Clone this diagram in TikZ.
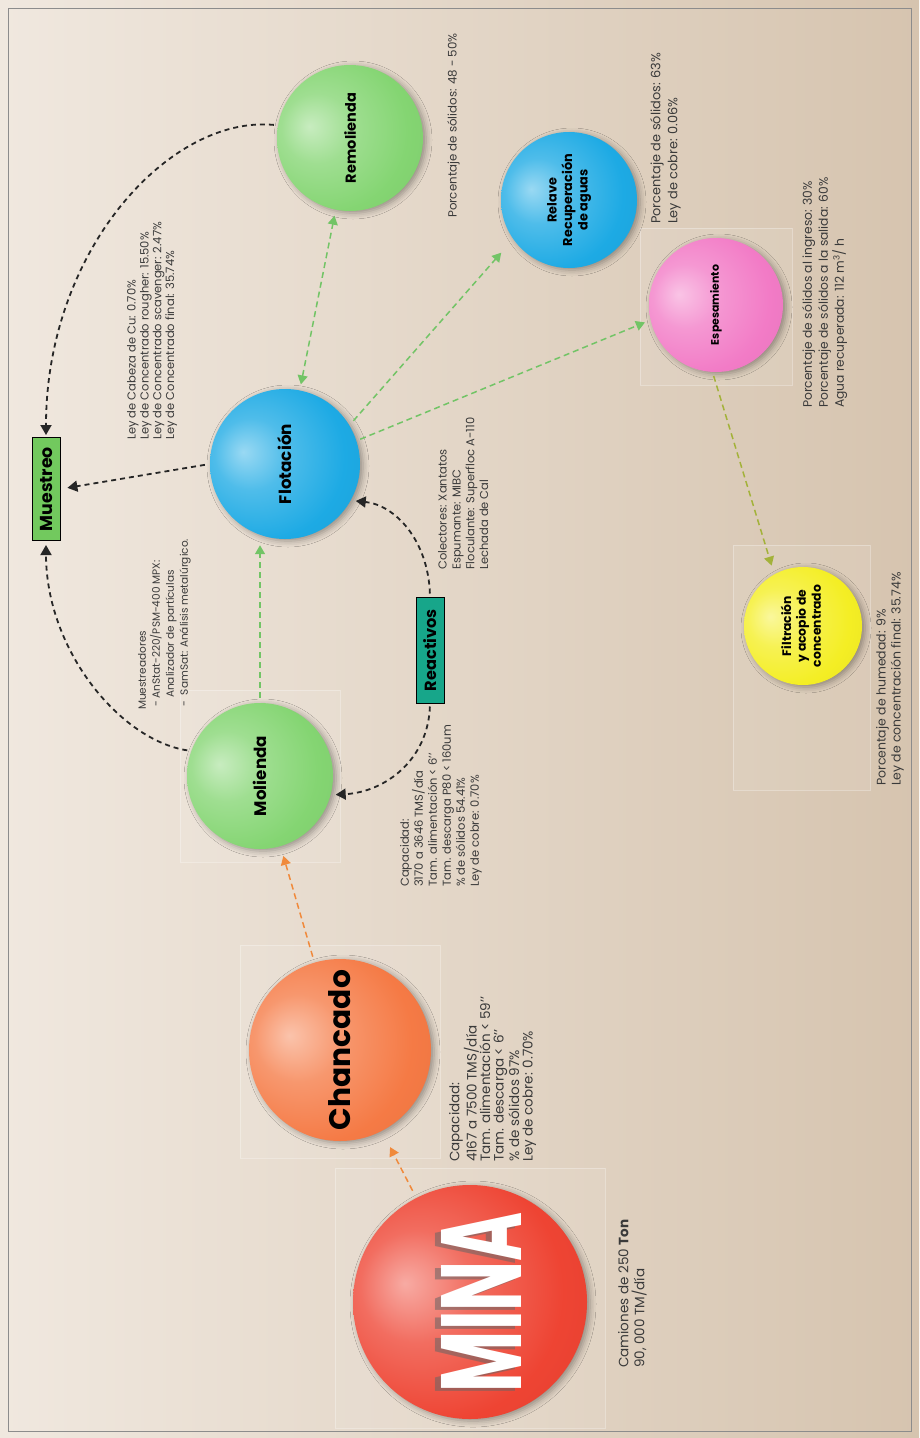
\documentclass[tikz,border=0pt]{standalone}
\usepackage{fontspec}
\setmainfont{Poppins}
\usepackage{graphicx}
\usetikzlibrary{arrows.meta,shadows.blur}

\definecolor{bgA}{HTML}{F0E8DF}
\definecolor{bgB}{HTML}{D6C4AF}
\definecolor{framec}{HTML}{8C8C8C}
\definecolor{minaC}{HTML}{EE4433}
\definecolor{chanC}{HTML}{F57A45}
\definecolor{greenC}{HTML}{84D572}
\definecolor{blueC}{HTML}{1DAAE4}
\definecolor{pinkC}{HTML}{F27BC6}
\definecolor{yellowC}{HTML}{F4EE24}
\definecolor{boxG}{HTML}{72C95E}
\definecolor{boxT}{HTML}{17A68A}
\definecolor{dashG}{HTML}{72C466}
\definecolor{dashO}{HTML}{F08A3C}
\definecolor{dashY}{HTML}{A3B23A}
\definecolor{txt}{HTML}{3A3A3A}

% glossy sphere shading, lit from the left
\makeatletter
\pgfdeclareradialshading[tikz@ball]{orb}{\pgfqpoint{-14bp}{4bp}}{%
  color(0bp)=(tikz@ball!45!white);
  color(12bp)=(tikz@ball!78!white);
  color(28bp)=(tikz@ball);
  color(50bp)=(tikz@ball!92!black);
  color(66bp)=(tikz@ball!82!black)}
\makeatother

\begin{document}
\begin{tikzpicture}[x=1pt,y=-1pt,
  sphere/.style={circle, inner sep=0pt, ball color=#1, shading=orb,
    blur shadow={shadow xshift=3pt, shadow yshift=-2pt, shadow opacity=35, shadow blur radius=6pt}},
  tagbox/.style={draw=black, line width=1pt, inner sep=0pt, fill=#1},
  info/.style={rotate=90, anchor=north west, inner sep=0pt, align=left,
    text=txt, font=\fontsize{11.5}{12.8}\selectfont},
  tile/.style={fill=white, fill opacity=0.08, draw=white, draw opacity=0.3, line width=0.6pt},
  blackflow/.style={draw=black!85, line width=1.8pt, dash pattern=on 5pt off 4pt,
    -{Triangle[width=11pt,length=10pt]}},
  greenflow/.style={draw=dashG, line width=1.5pt, dash pattern=on 6pt off 4pt,
    -{Triangle[width=10pt,length=9pt]}},
  orangeflow/.style={draw=dashO, line width=1.5pt, dash pattern=on 6pt off 4pt,
    -{Triangle[width=10pt,length=9pt]}},
  oliveflow/.style={draw=dashY, line width=1.5pt, dash pattern=on 6pt off 4pt,
    -{Triangle[width=10pt,length=9pt]}}
]
\useasboundingbox (0,0) rectangle (919,1438);

% paper
\shade[left color=bgA, right color=bgB] (0,0) rectangle (919,1438);

% pale panels behind the spheres
\path[tile] (335,1168) rectangle (605,1428);
\path[tile] (240,945) rectangle (440,1158);
\path[tile] (180,690) rectangle (340,862);
\path[tile] (733,545) rectangle (870,790);
\path[tile] (640,228) rectangle (792,385);

\draw[framec, line width=1pt] (8,8) rectangle (911,1431);

% process spheres
\node[sphere=minaC, minimum size=234pt] (mina) at (470,1302) {};
\node[text=black!60, opacity=0.55] (minashade) at (475,1305)
  {\rotatebox{90}{\resizebox{180pt}{80pt}{\bfseries MINA}}};
\node[text=white] (minalabel) at (481,1302)
  {\rotatebox{90}{\resizebox{180pt}{80pt}{\bfseries MINA}}};

\node[sphere=chanC, minimum size=182pt] (chancado) at (340,1050)
  {\rotatebox{90}{\resizebox{160pt}{!}{\bfseries Chancado}}};
\node[sphere=greenC, minimum size=146pt] (molienda) at (260,776)
  {\rotatebox{90}{\resizebox{80pt}{!}{\bfseries Molienda}}};
\node[sphere=blueC, minimum size=150pt] (flotacion) at (285,464)
  {\rotatebox{90}{\resizebox{80pt}{!}{\bfseries Flotación}}};
\node[sphere=greenC, minimum size=146pt] (remolienda) at (350,138)
  {\rotatebox{90}{\resizebox{90pt}{!}{\bfseries Remolienda}}};
\node[sphere=blueC, minimum size=136pt] (relave) at (569,200)
  {\rotatebox{90}{\resizebox{92pt}{!}{\bfseries\begin{tabular}{@{}c@{}}Relave\\Recuperación\\de aguas\end{tabular}}}};
\node[sphere=pinkC, minimum size=134pt] (espesamiento) at (716,305)
  {\rotatebox{90}{\resizebox{80pt}{!}{\bfseries Espesamiento}}};
\node[sphere=yellowC, minimum size=118pt] (filtracion) at (803,626)
  {\rotatebox{90}{\resizebox{82pt}{!}{\bfseries\begin{tabular}{@{}c@{}}Filtración\\y acopio de\\concentrado\end{tabular}}}};

% tag boxes
\node[tagbox=boxG, minimum width=28pt, minimum height=103pt] (muestreo) at (46,489)
  {\rotatebox{90}{\resizebox{84pt}{!}{\bfseries Muestreo}}};
\node[tagbox=boxT, minimum width=28pt, minimum height=106pt] (reactivos) at (430,650)
  {\rotatebox{90}{\resizebox{82pt}{!}{\bfseries Reactivos}}};

% process data
\node[info, font=\fontsize{13.5}{16}\selectfont] (camionesinfo) at (618,1368)
  {Camiones de 250 \textbf{Ton}\\90, 000 TM/día};
\node[info, font=\fontsize{13.5}{13.5}\selectfont] (chancadoinfo) at (449,1162)
  {Capacidad:\\4167 a 7500 TMS/día\\Tam. alimentación < 59'{}'\\Tam. descarga < 6'{}'\\\% de sólidos 97\%\\Ley de cobre: 0.70\%};
\node[info, font=\fontsize{11.5}{14}\selectfont] (moliendainfo) at (400,887)
  {Capacidad:\\3170 a 3646 TMS/día\\Tam. alimentación < 6'{}'\\Tam. descarga P80 < 160um\\\% de sólidos 54.41\%\\Ley de cobre: 0.70\%};
\node[info, font=\fontsize{10.5}{14}\selectfont] (muestreoinfo) at (138,710)
  {Muestreadores\\\hspace{3pt}- AnStat-220/PSM-400 MPX:\\\hspace{12pt}Analizador de partículas\\\hspace{3pt}-\hspace{6pt}SamSat: Análisis metalúrgico.};
\node[info] (flotacioninfo) at (127,440)
  {Ley de Cabeza de Cu: 0.70\%\\Ley de Concentrado rougher: 15.50\%\\Ley de Concentrado scavenger: 2.47\%\\Ley de Concentrado final: 35.74\%};
\node[info, font=\fontsize{11.5}{13.8}\selectfont] (reactivosinfo) at (438,570)
  {Colectores: Xantatos\\Espumante: MIBC\\Floculante: Superfloc A-110\\Lechada de Cal};
\node[info, font=\fontsize{11.8}{13}\selectfont] (remoliendainfo) at (447,218)
  {Porcentaje de sólidos: 48 - 50\%};
\node[info, font=\fontsize{12.9}{17}\selectfont] (relaveinfo) at (650,224)
  {Porcentaje de sólidos: 63\%\\Ley de cobre: 0.06\%};
\node[info, font=\fontsize{12.3}{16}\selectfont] (espesamientoinfo) at (802,408)
  {Porcentaje de sólidos al ingreso: 30\%\\Porcentaje de sólidos a la salida: 60\%\\Agua recuperada: 112 m\textsuperscript{3}/ h};
\node[info, font=\fontsize{12.5}{15}\selectfont] (filtracioninfo) at (876,786)
  {Porcentaje de humedad: 9\%\\Ley de concentración final: 35.74\%};

% material flow
\draw[orangeflow, shorten <=8pt, shorten >=18pt] (mina) -- (chancado);
\draw[orangeflow, shorten <=6pt, shorten >=10pt] (chancado) -- (molienda);
\draw[greenflow, shorten <=5pt, shorten >=6pt] (molienda.north) -- (molienda.north |- flotacion.south);
\draw[greenflow, {Triangle[width=10pt,length=9pt]}-{Triangle[width=10pt,length=9pt]}, shorten <=6pt, shorten >=6pt] (flotacion) -- (remolienda);
\draw[greenflow, shorten <=6pt, shorten >=18pt] (flotacion.31) -- (relave.215);
\draw[greenflow, shorten <=4pt, shorten >=6pt] (flotacion.18) -- (espesamiento.193);
\draw[oliveflow, shorten <=4pt, shorten >=9pt] (espesamiento.267) -- (filtracion.119);

% sampling and reagent lines
\draw[blackflow, shorten <=5pt, shorten >=7pt] (flotacion.west) -- (muestreo.east);
\draw[blackflow, shorten <=4pt, shorten >=4pt] (molienda.160) .. controls (120,740) and (46,650) .. (muestreo.south);
\draw[blackflow, shorten <=4pt, shorten >=2pt] (remolienda.170) .. controls (170,115) and (46,250) .. (muestreo.north);
\draw[blackflow, shorten <=3pt, shorten >=5pt] (reactivos.south) .. controls (428,760) and (385,792) .. (molienda.-15);
\draw[blackflow, shorten <=3pt, shorten >=5pt] (reactivos.north) .. controls (428,540) and (395,505) .. (flotacion.-29);
\end{tikzpicture}
\end{document}
